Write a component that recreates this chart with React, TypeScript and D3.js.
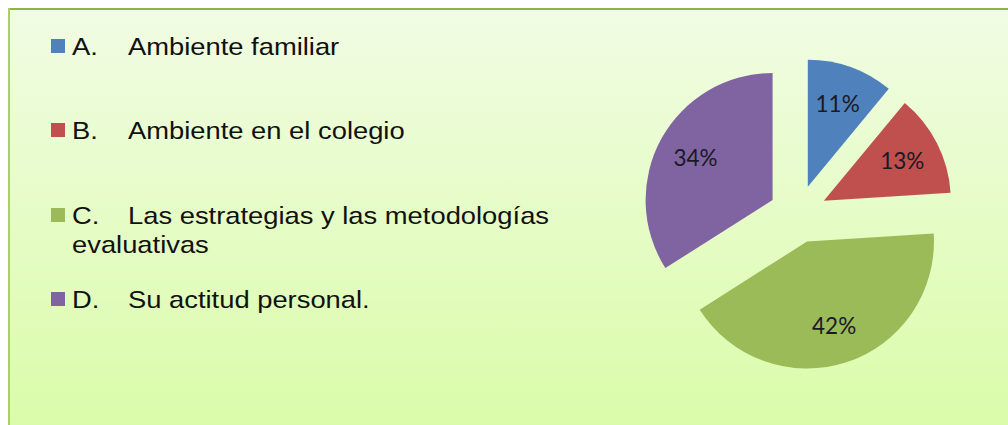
import React from "react";
import * as d3 from "d3";

const categories = ["A.", "B.", "C.", "D."];
const labels = [
  ["Ambiente familiar"],
  ["Ambiente en el colegio"],
  ["Las estrategias y las metodologías", "evaluativas"],
  ["Su actitud personal."],
];
const values = [11, 13, 42, 34];
const colors = ["#4f81bd", "#c0504d", "#9bbb59", "#8064a2"];

const W = 1008;
const H = 425;
const cx = 798;
const cy = 214;
const R = 127;
const explode = 29;
const labelR = 88;

export default function App() {
  const pie = d3.pie<number>().sort(null).value((d) => d)(values);
  const arc = d3.arc<d3.PieArcDatum<number>>().innerRadius(0).outerRadius(R);
  const total = d3.sum(values);

  const legendBase = [55, 139, 224, 308];

  return (
    <svg
      width={W}
      height={H}
      style={{ position: "absolute", left: 0, top: 0, display: "block" }}
    >
      <defs>
        <linearGradient id="bg" x1="0" y1="0" x2="0" y2="1">
          <stop offset="0%" stopColor="#f1fce4" />
          <stop offset="100%" stopColor="#dafca8" />
        </linearGradient>
      </defs>
      <rect x={0} y={0} width={W} height={H} fill="#ffffff" />
      <rect x={8} y={8} width={W} height={H} fill="url(#bg)" />
      <line x1={8} y1={9} x2={W} y2={9} stroke="#8cb545" strokeWidth={2} />
      <line x1={9} y1={8} x2={9} y2={H} stroke="#a9cf6a" strokeWidth={2} />

      {categories.map((c, i) => {
        const base = legendBase[i];
        return (
          <g key={c}>
            <rect x={51} y={base - 16} width={14} height={14} fill={colors[i]} />
            <text
              transform={`translate(72,${base}) scale(1.14,1)`}
              fontFamily="'Liberation Sans', Arial, sans-serif"
              fontSize={24}
              fill="#111"
            >
              {c}
            </text>
            {labels[i].map((t, j) => (
              <text
                key={j}
                transform={`translate(${j === 0 ? 128 : 72},${base + j * 29}) scale(1.14,1)`}
                fontFamily="'Liberation Sans', Arial, sans-serif"
                fontSize={24}
                fill="#111"
              >
                {t}
              </text>
            ))}
          </g>
        );
      })}

      {pie.map((p, i) => {
        const mid = (p.startAngle + p.endAngle) / 2;
        const ox = cx + explode * Math.sin(mid);
        const oy = cy - explode * Math.cos(mid);
        const lx = labelR * Math.sin(mid);
        const ly = -labelR * Math.cos(mid);
        return (
          <g key={i} transform={`translate(${ox},${oy})`}>
            <path d={arc(p) || ""} fill={colors[i]} />
            <text
              x={lx}
              y={ly}
              textAnchor="middle"
              dominantBaseline="central"
              fontFamily="Lato, 'Open Sans', sans-serif"
              fontSize={22.5}
              fill="#1a1a26"
            >
              {Math.round((values[i] / total) * 100)}%
            </text>
          </g>
        );
      })}
    </svg>
  );
}
